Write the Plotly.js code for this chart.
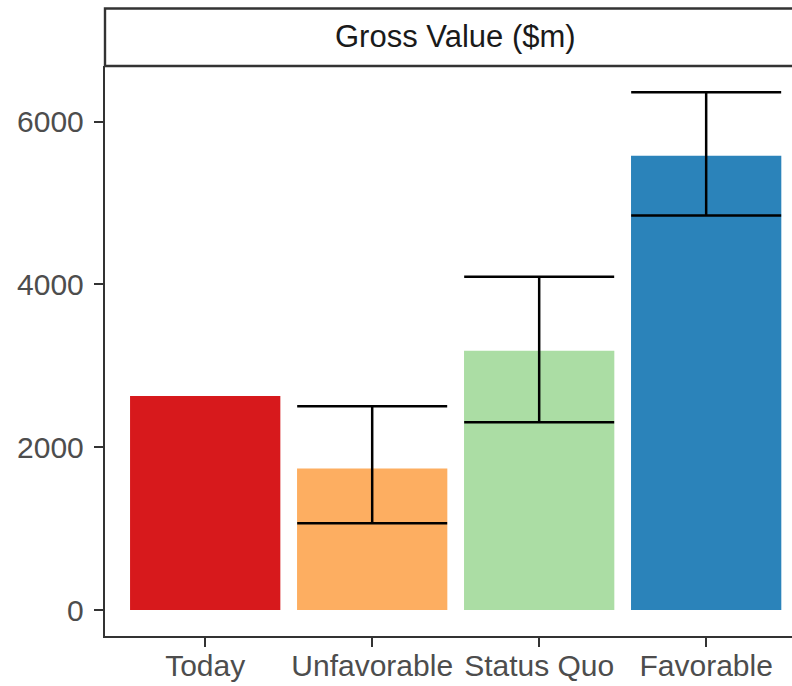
<!DOCTYPE html>
<html>
<head>
<meta charset="utf-8">
<script src="https://cdn.plot.ly/plotly-3.0.1.min.js"></script>
<style>
  html, body { margin: 0; padding: 0; background: #fff; overflow: hidden; }
  #chart { width: 792px; height: 686px; }
</style>
</head>
<body>
<div id="chart"></div>
<script>
// Gross value by scenario, with low/high range for the projected scenarios
const categories = ["Today", "Unfavorable", "Status Quo", "Favorable"];
const grossValue = [2630, 1740, 3185, 5580];
const barColors = ["#D7191C", "#FDAE61", "#ABDDA4", "#2B83BA"];

const rangeCategories = ["Unfavorable", "Status Quo", "Favorable"];
const rangeLow = [1067, 2307, 4847];
const rangeHigh = [2503, 4094, 6360];

const panelTitle = "Gross Value ($m)";
const yTickValues = [0, 2000, 4000, 6000];
const yTickLabels = ["0", "2000", "4000", "6000"];

const FONT = "Liberation Sans, Arial, Helvetica, sans-serif";
const AXIS_COLOR = "#333333";
const LABEL_COLOR = "#4d4d4d";

const bars = {
  type: "bar",
  x: categories,
  y: grossValue,
  width: 0.9,
  marker: { color: barColors, line: { width: 0 } },
  hoverinfo: "x+y",
  showlegend: false
};

// Range bars: anchored at the high value, extending down to the low value
const ranges = {
  type: "scatter",
  mode: "markers",
  x: rangeCategories,
  y: rangeHigh,
  marker: { size: 1, color: "rgba(0,0,0,0)" },
  error_y: {
    type: "data",
    symmetric: false,
    array: rangeHigh.map(() => 0),
    arrayminus: rangeHigh.map((h, i) => h - rangeLow[i]),
    color: "#000000",
    thickness: 2.5,
    width: 75
  },
  hoverinfo: "skip",
  showlegend: false
};

const layout = {
  width: 792,
  height: 686,
  margin: { l: 105, r: 0, t: 66, b: 50, pad: 0 },
  paper_bgcolor: "#ffffff",
  plot_bgcolor: "#ffffff",
  font: { family: FONT, size: 30, color: LABEL_COLOR },
  bargap: 0.1,
  xaxis: {
    type: "category",
    categoryorder: "array",
    categoryarray: categories,
    range: [-0.6, 3.514],
    showgrid: false,
    zeroline: false,
    showline: true,
    linecolor: AXIS_COLOR,
    linewidth: 2.2,
    ticks: "outside",
    ticklen: 9,
    tickwidth: 2,
    tickcolor: AXIS_COLOR,
    ticklabelstandoff: -7,
    tickfont: { family: FONT, size: 30, color: LABEL_COLOR },
    fixedrange: true
  },
  yaxis: {
    range: [-318, 6682],
    tickvals: yTickValues,
    ticktext: yTickLabels,
    showgrid: false,
    zeroline: false,
    showline: true,
    linecolor: AXIS_COLOR,
    linewidth: 2.2,
    ticks: "outside",
    ticklen: 9,
    tickwidth: 2,
    tickcolor: AXIS_COLOR,
    ticklabelstandoff: 4,
    tickfont: { family: FONT, size: 30, color: LABEL_COLOR },
    fixedrange: true
  },
  shapes: [
    {
      // facet strip box
      type: "rect",
      xref: "paper", yref: "paper",
      x0: 0, x1: 1.05,
      y0: 1.0, y1: 1.101,
      fillcolor: "#ffffff",
      line: { color: AXIS_COLOR, width: 2.4 },
      layer: "above"
    }
  ],
  annotations: [
    {
      xref: "paper", yref: "paper",
      x: 0.510, y: 1.0514,
      xanchor: "center", yanchor: "middle",
      text: panelTitle,
      showarrow: false,
      font: { family: FONT, size: 31, color: "#1a1a1a" }
    }
  ]
};

Plotly.newPlot("chart", [bars, ranges], layout, { displayModeBar: false, staticPlot: true });
</script>
</body>
</html>
